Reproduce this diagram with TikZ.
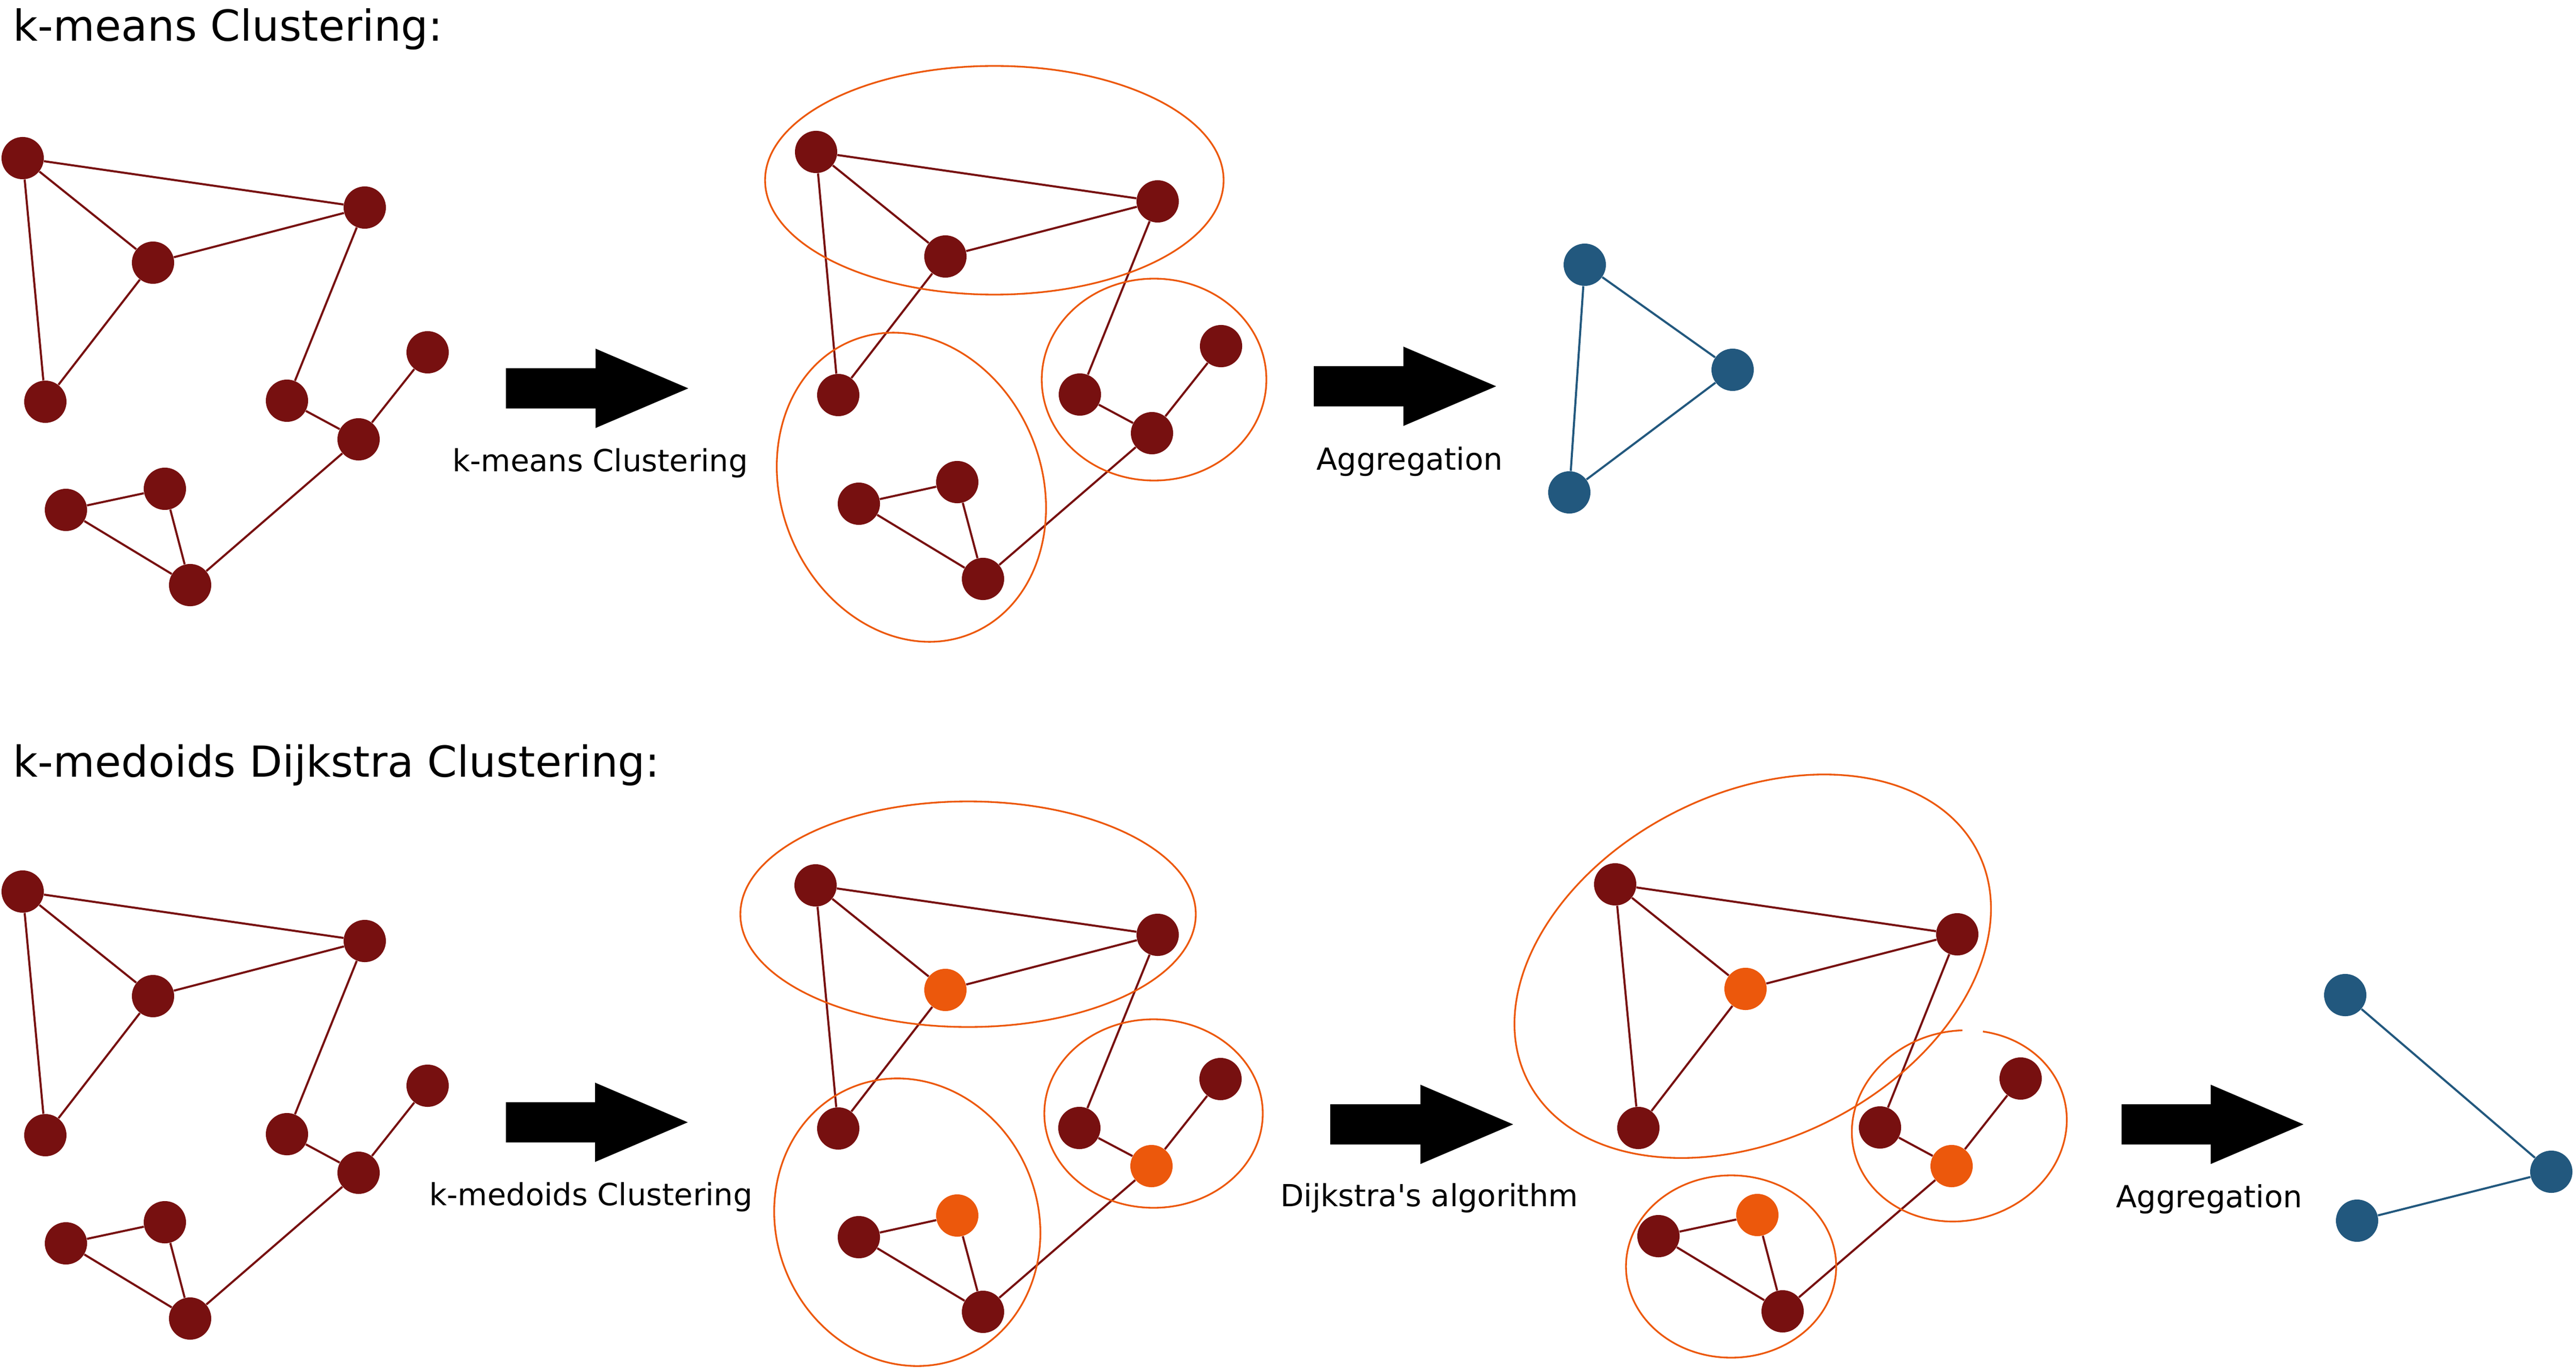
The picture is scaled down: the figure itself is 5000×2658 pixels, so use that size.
\documentclass[tikz,border=0pt]{standalone}
\usepackage{fontspec}
\setmainfont{DejaVu Sans}
\usepackage{tikz}
\usetikzlibrary{calc}
\definecolor{nodered}{HTML}{771010}
\definecolor{clusorange}{HTML}{EC580C}
\definecolor{aggblue}{HTML}{22587E}
\tikzset{
  vtx/.style={circle, fill=nodered, inner sep=0pt, minimum size=0.82cm},
  medvtx/.style={vtx, fill=clusorange},
  aggvtx/.style={vtx, fill=aggblue},
  edge/.style={draw=nodered, line width=1.15pt},
  aggedge/.style={draw=aggblue, line width=1.15pt},
  clus/.style={draw=clusorange, line width=0.95pt},
  ttl/.style={inner sep=0pt, anchor=base west, font=\fontsize{23.6}{28}\selectfont},
  lbl/.style={inner sep=0pt, anchor=base, font=\fontsize{16.8}{20}\selectfont}
}
% fat block arrow: tail x, tip x, y
\newcommand{\fatarrow}[3]{\fill (#1,{#3-39}) -- ({#2-180},{#3-39}) -- ({#2-180},{#3-77}) -- (#2,#3) -- ({#2-180},{#3+77}) -- ({#2-180},{#3+39}) -- (#1,{#3+39}) -- cycle;}

\begin{document}
\begin{tikzpicture}[x=0.01cm, y=-0.01cm]
			%%%%% START %%%%%
			\useasboundingbox (0,0) rectangle (5000,2658);
			
			\node[ttl] (ttlkm) at (25,80) {k-means Clustering:};
			\node[ttl] (ttlkd) at (25,1508) {k-medoids Dijkstra Clustering:};
			
			% original graphs
			\foreach \n/\x/\y in {1/44/307, 2/708/403, 3/297/510, 4/88/780, 5/557/778,
				6/830/684, 7/696/853, 8/128/990, 9/320/949, 10/369/1136}
			{
				\node[vtx] (a\n) at (\x,\y) {};
				\node[vtx] (d\n) at (\x,{\y+1424}) {};
			}
			
			% clustered graphs
			\foreach \n/\x/\y in {1/1584/295, 2/2247/391, 3/1835/498, 4/1627/767, 5/2096/766,
				6/2370/672, 7/2236/841, 8/1667/978, 9/1858/936, 10/1908/1124}
				\node[vtx] (b\n) at (\x,\y) {};
			\foreach \n/\x/\y in {1/1583/1719, 2/2247/1815, 4/1627/2191, 5/2095/2190,
				6/2369/2095, 8/1667/2402, 10/1908/2547}
				\node[vtx] (e\n) at (\x,\y) {};
			\foreach \n/\x/\y in {3/1835/1922, 7/2235/2264, 9/1858/2360}
				\node[medvtx] (e\n) at (\x,\y) {};
			\foreach \n/\x/\y in {1/3135/1717, 2/3799/1814, 4/3180/2190, 5/3649/2189,
				6/3922/2094, 8/3219/2400, 10/3460/2546}
				\node[vtx] (f\n) at (\x,\y) {};
			\foreach \n/\x/\y in {3/3388/1920, 7/3788/2264, 9/3411/2359}
				\node[medvtx] (f\n) at (\x,\y) {};
			
			\foreach \g in {a,b,d,e,f}
				\foreach \u/\v in {1/2, 1/3, 1/4, 3/2, 3/4, 2/5, 5/7, 7/6, 7/10, 8/9, 8/10, 9/10}
					\draw[edge] (\g\u) -- (\g\v);
			
			% clusters
			\draw[clus] (1930,350) ellipse [x radius=445, y radius=222];
			\draw[clus, rotate around={22:(1769,946)}] (1769,946) ellipse [x radius=253, y radius=307];
			\draw[clus] (2240,737) ellipse [x radius=218, y radius=196];
			
			\draw[clus] (1879,1775) ellipse [x radius=442, y radius=219];
			\draw[clus, rotate around={22:(1761,2373)}] (1761,2373) ellipse [x radius=254, y radius=283];
			\draw[clus] (2239,2162) ellipse [x radius=212, y radius=183];
			
			\draw[clus, rotate around={27:(3402,1876)}] (3402,1876) ellipse [x radius=490, y radius=335];
			\draw[clus, rotate around={14:(3803,2186)}] (3803,2186) ++(-65:210 and 184)
				arc [start angle=-65, end angle=284, x radius=210, y radius=184];
			\draw[clus] (3360,2459) ellipse [x radius=204, y radius=177];
			
			% aggregated graphs
			\node[aggvtx] (c1) at (3076,514) {};
			\node[aggvtx] (c2) at (3363,718) {};
			\node[aggvtx] (c3) at (3046,956) {};
			\draw[aggedge] (c1) -- (c2);
			\draw[aggedge] (c2) -- (c3);
			\draw[aggedge] (c1) -- (c3);
			
			\node[aggvtx] (g1) at (4552,1932) {};
			\node[aggvtx] (g2) at (4952,2275) {};
			\node[aggvtx] (g3) at (4575,2370) {};
			\draw[aggedge] (g1) -- (g2);
			\draw[aggedge] (g3) -- (g2);
			
			% arrows
			\fatarrow{982}{1336}{754}
			\fatarrow{2550}{2904}{750}
			\fatarrow{982}{1335}{2179}
			\fatarrow{2582}{2937}{2183}
			\fatarrow{4118}{4471}{2183}
			
			\node[lbl] (lblkm) at (1165,915) {k-means Clustering};
			\node[lbl] (lblagg) at (2736,912) {Aggregation};
			\node[lbl] (lblkd) at (1147,2340) {k-medoids Clustering};
			\node[lbl] (lbldij) at (2774,2342) {Dijkstra\textquotesingle s algorithm};
			\node[lbl] (lblaggb) at (4288,2344) {Aggregation};
			
			%%%%% END %%%%%
		\end{tikzpicture}
\end{document}
